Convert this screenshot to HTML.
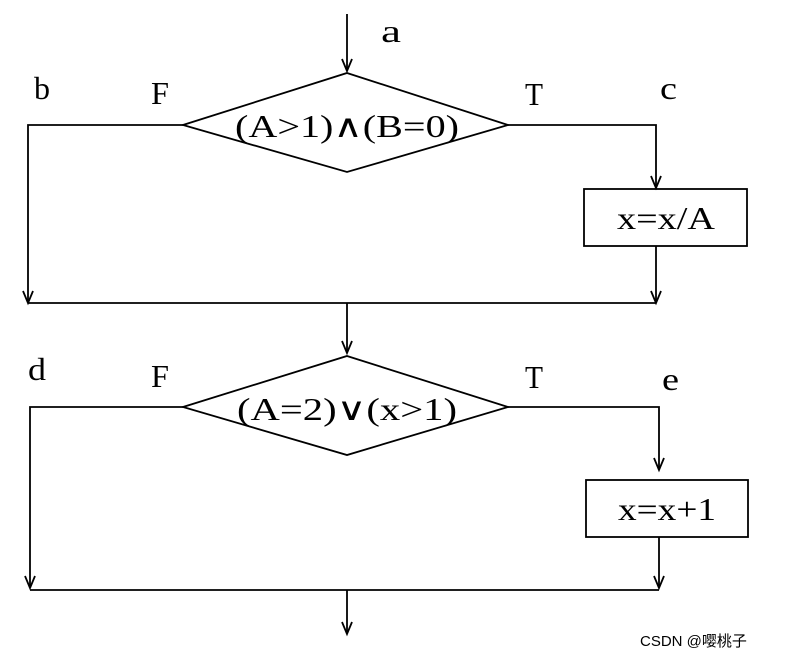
<!DOCTYPE html>
<html><head><style>body{margin:0;background:#fff}svg{display:block}text{font-family:"Liberation Serif",serif;fill:#000}</style></head><body>
<svg width="788" height="660" viewBox="0 0 788 660" xmlns="http://www.w3.org/2000/svg">
<g stroke="#000" stroke-width="1.8" fill="none">
<line x1="347" y1="14" x2="347" y2="71"/>
<polyline points="342,59 347,71 352,59"/>
<polygon points="347,73 508,125 347,172 183,125" fill="#fff"/>
<polyline points="183,125 28,125 28,303"/>
<polyline points="23,291 28,303 33,291"/>
<polyline points="508,125 656,125 656,188"/>
<polyline points="651,176 656,188 661,176"/>
<rect x="584" y="189" width="163" height="57"/>
<line x1="656" y1="246" x2="656" y2="303"/>
<polyline points="651,291 656,303 661,291"/>
<line x1="28" y1="303" x2="656" y2="303"/>
<line x1="347" y1="303" x2="347" y2="353"/>
<polyline points="342,341 347,353 352,341"/>
<polygon points="347,356 508,407 347,455 183,407" fill="#fff"/>
<polyline points="183,407 30,407 30,588"/>
<polyline points="25,576 30,588 35,576"/>
<polyline points="508,407 659,407 659,470"/>
<polyline points="654,458 659,470 664,458"/>
<rect x="586" y="480" width="162" height="57"/>
<line x1="659" y1="537" x2="659" y2="588"/>
<polyline points="654,576 659,588 664,576"/>
<line x1="30" y1="590" x2="659" y2="590"/>
<line x1="347" y1="590" x2="347" y2="634"/>
<polyline points="342,622 347,634 352,622"/>
</g>
<g font-size="32">
<text x="381" y="42" textLength="20" lengthAdjust="spacingAndGlyphs">a</text>
<text x="34" y="99" textLength="16" lengthAdjust="spacingAndGlyphs">b</text>
<text x="151" y="104" textLength="18" lengthAdjust="spacingAndGlyphs">F</text>
<text x="525" y="105" textLength="18" lengthAdjust="spacingAndGlyphs">T</text>
<text x="660" y="99" textLength="17" lengthAdjust="spacingAndGlyphs">c</text>
<text x="28" y="380" textLength="18" lengthAdjust="spacingAndGlyphs">d</text>
<text x="151" y="387" textLength="18" lengthAdjust="spacingAndGlyphs">F</text>
<text x="525" y="388" textLength="18" lengthAdjust="spacingAndGlyphs">T</text>
<text x="662" y="390" textLength="17" lengthAdjust="spacingAndGlyphs">e</text>
</g>
<g font-size="32">
<text x="347" y="137" text-anchor="middle" textLength="224" lengthAdjust="spacingAndGlyphs">(A&gt;1)∧(B=0)</text>
<text x="666" y="229" text-anchor="middle" textLength="98" lengthAdjust="spacingAndGlyphs">x=x/A</text>
<text x="347" y="420" text-anchor="middle" textLength="220" lengthAdjust="spacingAndGlyphs">(A=2)∨(x&gt;1)</text>
<text x="667" y="520" text-anchor="middle" textLength="98" lengthAdjust="spacingAndGlyphs">x=x+1</text>
</g>
<text x="640" y="646" font-size="15" style="font-family:'Liberation Sans','Noto Sans CJK SC',sans-serif" fill="#999">CSDN @嘤桃子</text>
</svg>
</body></html>
